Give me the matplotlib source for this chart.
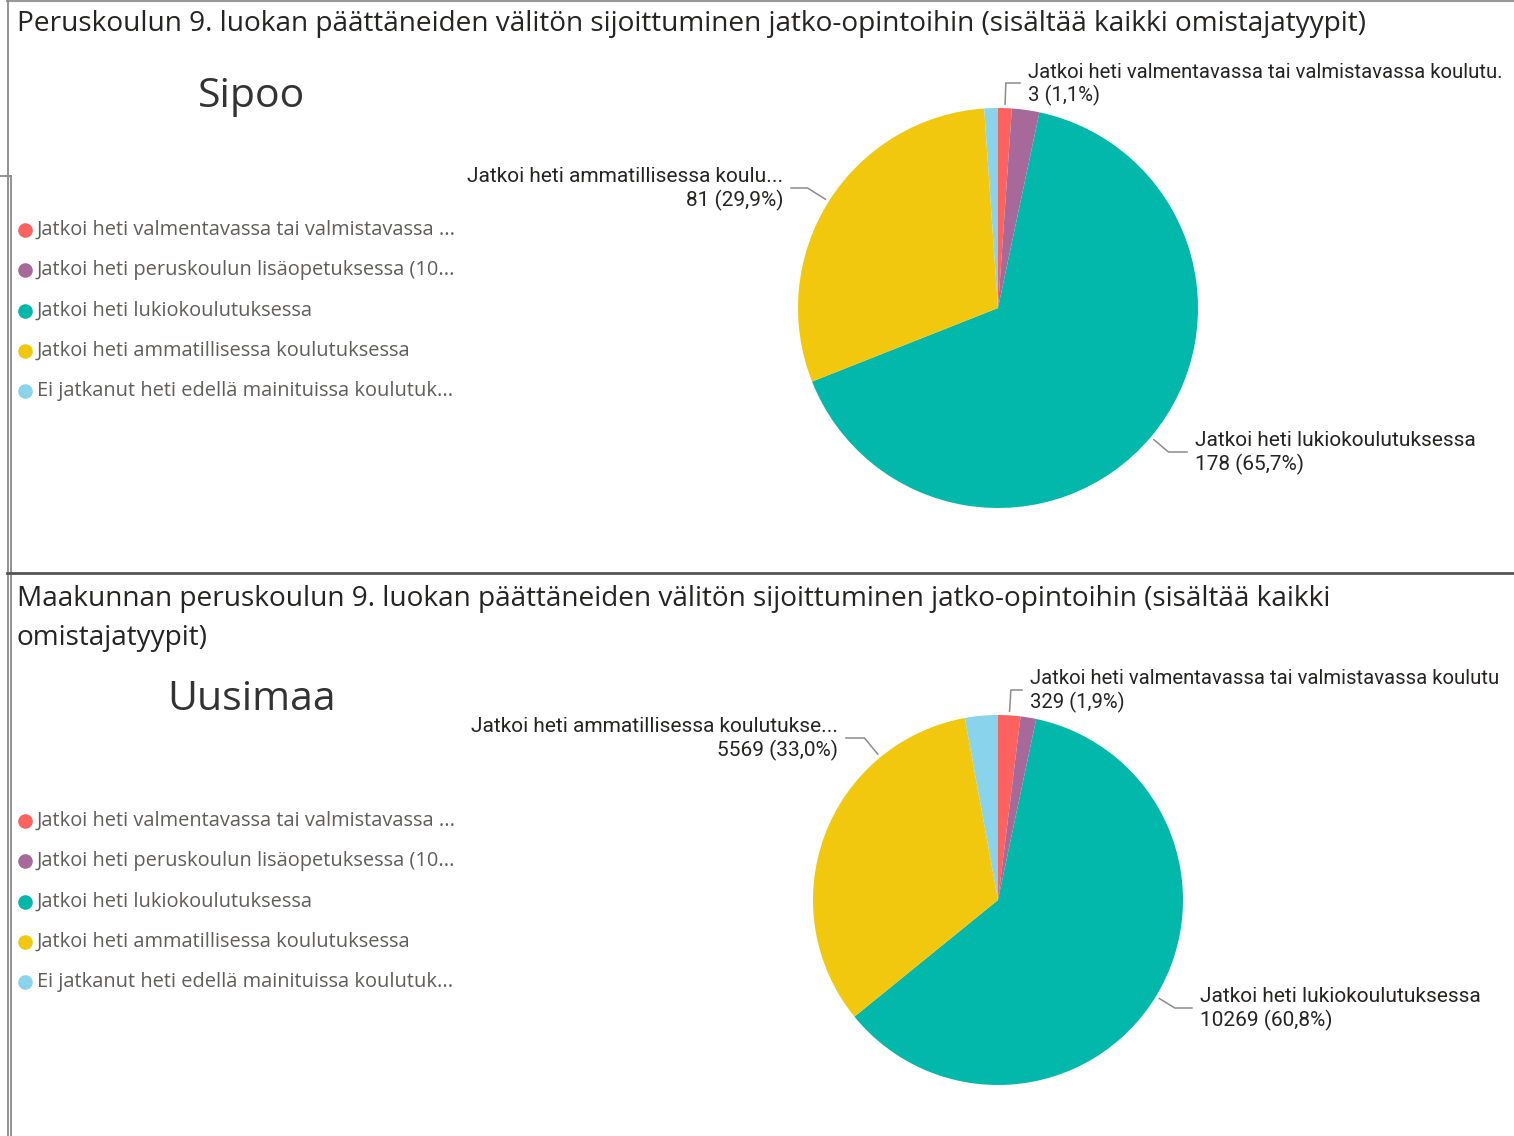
import numpy as np
import matplotlib.pyplot as plt

W, H = 1514, 1136

plt.rcParams['font.family'] = ['Open Sans', 'DejaVu Sans']

# data
colors = ["#FD625E", "#A66999", "#01B8AA", "#F2C80F", "#8AD4EB"]
legend_labels = [
    "Jatkoi heti valmentavassa tai valmistavassa ...",
    "Jatkoi heti peruskoulun lisäopetuksessa (10...",
    "Jatkoi heti lukiokoulutuksessa",
    "Jatkoi heti ammatillisessa koulutuksessa",
    "Ei jatkanut heti edellä mainituissa koulutuk...",
]
sipoo_values = [3, 6, 178, 81, 3]
uusimaa_values = [329, 230, 10269, 5569, 485]

sipoo_slice_labels = {
    0: "Jatkoi heti valmentavassa tai valmistavassa koulutu.",
    3: "Jatkoi heti ammatillisessa koulu...",
    2: "Jatkoi heti lukiokoulutuksessa",
}
uusimaa_slice_labels = {
    0: "Jatkoi heti valmentavassa tai valmistavassa koulutu",
    3: "Jatkoi heti ammatillisessa koulutukse...",
    2: "Jatkoi heti lukiokoulutuksessa",
}

title_top = "Peruskoulun 9. luokan päättäneiden välitön sijoittuminen jatko-opintoihin (sisältää kaikki omistajatyypit)"
title_bottom = ["Maakunnan peruskoulun 9. luokan päättäneiden välitön sijoittuminen jatko-opintoihin (sisältää kaikki",
                "omistajatyypit)"]

LABEL_FONT = ['Roboto', 'DejaVu Sans']
TXT_DARK = "#252423"
TXT_GRAY = "#605E5C"
LINE_GRAY = "#8C8C8C"

fig = plt.figure(figsize=(W / 100, H / 100), dpi=100)
fig.patch.set_facecolor("white")

ov = fig.add_axes([0, 0, 1, 1])
ov.set_xlim(0, W)
ov.set_ylim(H, 0)
ov.axis("off")
ov.set_zorder(5)


def draw_panel(values, slice_labels, cx, cy, r, name, name_y, legend_y0, label_pos, angle_override=None):
    ax = fig.add_axes([(cx - r) / W, (H - cy - r) / H, 2 * r / W, 2 * r / H])
    wedges, _ = ax.pie(values, colors=colors, startangle=90, counterclock=False,
                       wedgeprops=dict(linewidth=0))
    ax.set_xlim(-1, 1)
    ax.set_ylim(-1, 1)
    ax.axis("off")

    total = sum(values)
    for i, txt in slice_labels.items():
        w = wedges[i]
        ang = (w.theta1 + w.theta2) / 2
        if angle_override and i in angle_override:
            ang = angle_override[i]
        d = np.array([np.cos(np.radians(ang)), -np.sin(np.radians(ang))])
        p0 = np.array([cx, cy]) + d * (r + 4)
        tx, ty, ha, fs = label_pos[i]
        # elbow: follow radial dir until reaching the leader y
        t = (ty - p0[1]) / d[1] if abs(d[1]) > 1e-6 else 0
        p1 = p0 + d * t
        end_x = tx - 8 if ha == "left" else tx + 8
        ov.plot([p0[0], p1[0], end_x], [p0[1], p1[1], ty], color=LINE_GRAY, lw=1.1,
                solid_joinstyle="miter")
        pct = f"{values[i] / total * 100:.1f}".replace(".", ",")
        ov.text(tx, ty - 11, txt, ha=ha, va="center", fontsize=fs, color=TXT_DARK, family=LABEL_FONT)
        ov.text(tx, ty + 12, f"{values[i]} ({pct}%)", ha=ha, va="center", fontsize=fs,
                color=TXT_DARK, family=LABEL_FONT)

    ov.text(252, name_y, name, ha="center", va="center", fontsize=29.5, color="#333333")
    for k, lab in enumerate(legend_labels):
        y = legend_y0 + k * 40.3
        ov.plot(25, y, "o", ms=10.5, color=colors[k], mec="none")
        ov.text(37, y, lab, ha="left", va="center", fontsize=14.4, color=TXT_GRAY)


# borders
ov.plot([7, W], [1, 1], color="#9A9A9A", lw=1.5)
ov.plot([7.5, 7.5], [0, H], color="#8A8A8A", lw=1.3)
ov.plot([10.5, 10.5], [176, H], color="#8A8A8A", lw=1.3)
ov.plot([0, 10.5], [176, 176], color="#8A8A8A", lw=1.3)
ov.plot([7, W], [573, 573], color="#555555", lw=2)

# titles
ov.text(17, 24, title_top, ha="left", va="center", fontsize=20.2, color=TXT_DARK)
ov.text(17, 599, title_bottom[0], ha="left", va="center", fontsize=20.2, color=TXT_DARK)
ov.text(17, 638, title_bottom[1], ha="left", va="center", fontsize=20.2, color=TXT_DARK)

draw_panel(sipoo_values, sipoo_slice_labels, 998, 308, 200, "Sipoo", 97, 230,
           {0: (1028, 83, "left", 14.6), 3: (783, 188, "right", 15), 2: (1195, 452, "left", 15)})
draw_panel(uusimaa_values, uusimaa_slice_labels, 998, 900, 185, "Uusimaa", 700, 821,
           {0: (1030, 690, "left", 14.6), 3: (838, 738, "right", 15), 2: (1200, 1008, "left", 15)},
           angle_override={3: 129.5})

fig.savefig("out.png", dpi=100)
